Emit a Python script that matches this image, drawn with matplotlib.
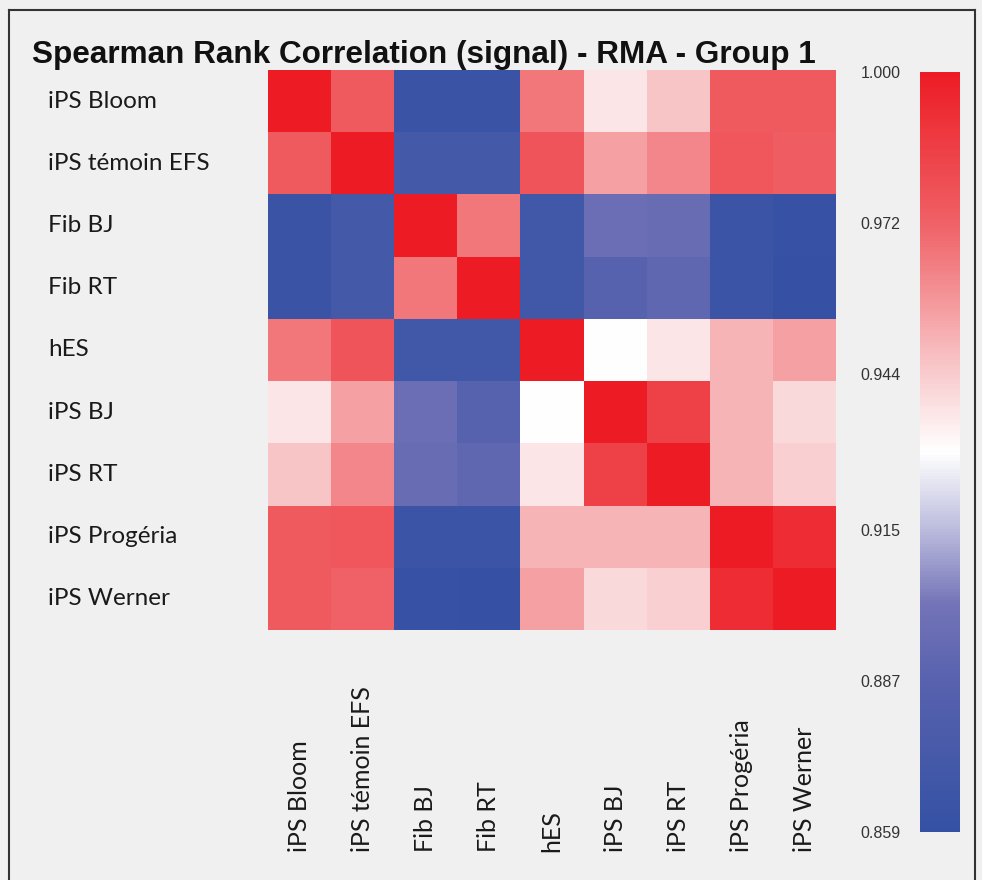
import numpy as np
import matplotlib
matplotlib.use("Agg")
import matplotlib.pyplot as plt
from matplotlib.colors import LinearSegmentedColormap
from matplotlib import font_manager
import matplotlib.transforms as mtransforms

labels = ["iPS Bloom", "iPS témoin EFS", "Fib BJ", "Fib RT", "hES",
          "iPS BJ", "iPS RT", "iPS Progéria", "iPS Werner"]

row_bloom   = [1.000, 0.975, 0.863, 0.863, 0.966, 0.937, 0.946, 0.975, 0.975]
row_efs     = [0.975, 1.000, 0.872, 0.872, 0.977, 0.955, 0.962, 0.976, 0.974]
row_fibbj   = [0.863, 0.872, 1.000, 0.966, 0.869, 0.897, 0.895, 0.865, 0.861]
row_fibrt   = [0.863, 0.872, 0.966, 1.000, 0.869, 0.887, 0.891, 0.865, 0.860]
row_hes     = [0.966, 0.977, 0.869, 0.869, 1.000, 0.930, 0.937, 0.950, 0.955]
row_ipsbj   = [0.937, 0.955, 0.897, 0.887, 0.930, 1.000, 0.985, 0.950, 0.940]
row_ipsrt   = [0.946, 0.962, 0.895, 0.891, 0.937, 0.985, 1.000, 0.950, 0.943]
row_prog    = [0.975, 0.976, 0.865, 0.865, 0.950, 0.950, 0.950, 1.000, 0.993]
row_werner  = [0.975, 0.972, 0.861, 0.860, 0.955, 0.940, 0.943, 0.993, 1.000]

cbar_ticks = [1.000, 0.972, 0.944, 0.915, 0.887, 0.859]
vmin, vmax = 0.859, 1.000

matrix = np.array([row_bloom, row_efs, row_fibbj, row_fibrt, row_hes,
                   row_ipsbj, row_ipsrt, row_prog, row_werner])

avail = {f.name for f in font_manager.fontManager.ttflist}
label_font = "Lato" if "Lato" in avail else "DejaVu Sans"

bg = "#F0F0F0"
fig = plt.figure(figsize=(9.82, 8.8), dpi=100, facecolor=bg)

# frame
fc = "#333333"
fig.add_artist(plt.Line2D([9/982, 9/982], [0, 1 - 10/880], transform=fig.transFigure, color=fc, lw=1.5))
fig.add_artist(plt.Line2D([9/982, 975/982], [1 - 10/880, 1 - 10/880], transform=fig.transFigure, color=fc, lw=1.5))
fig.add_artist(plt.Line2D([975/982, 975/982], [0, 1 - 10/880], transform=fig.transFigure, color=fc, lw=1.5))

cmap = LinearSegmentedColormap.from_list(
    "bwr_custom",
    [(0.0, "#3551A4"), (0.2, "#5862AE"), (0.3, "#7474B8"), (0.4, "#BDBDDE"),
     (0.5, "#FFFFFF"), (0.6, "#F9CDCF"), (0.8, "#EF6267"), (1.0, "#ED1C24")])

ax = fig.add_axes([268/982, 1 - 630/880, 568/982, 560/880])
n = len(labels)
ax.pcolormesh(np.arange(n + 1), np.arange(n + 1), matrix, cmap=cmap, vmin=vmin, vmax=vmax)
ax.set_xlim(0, n)
ax.set_ylim(n, 0)
ax.set_xticks([])
ax.set_yticks([])
for s in ax.spines.values():
    s.set_visible(False)
ax.set_facecolor(bg)

# row labels
trans_y = mtransforms.blended_transform_factory(fig.transFigure, ax.transData)
for i, lab in enumerate(labels):
    ax.text(48/982, i + 0.5, lab, transform=trans_y, ha="left", va="center",
            fontsize=17.5, family=label_font, color="#1a1a1a")

# column labels
trans_x = mtransforms.blended_transform_factory(ax.transData, fig.transFigure)
for j, lab in enumerate(labels):
    ax.text(j + 0.5, 1 - 852/880, lab, transform=trans_x, rotation=90,
            ha="center", va="bottom", fontsize=18, family=label_font, color="#1a1a1a")

fig.text(32/982, 1 - 63/880, "Spearman Rank Correlation (signal) - RMA - Group 1",
         fontsize=22.7, fontweight="bold", family="Liberation Sans", color="#111111",
         ha="left", va="baseline")

# colorbar
cax = fig.add_axes([920/982, 1 - 832/880, 40/982, 760/880])
grad = np.linspace(vmin, vmax, 256).reshape(-1, 1)
cax.pcolormesh([0, 1], np.linspace(vmin, vmax, 257), grad, cmap=cmap, vmin=vmin, vmax=vmax)
cax.set_ylim(vmin, vmax)
cax.set_xlim(0, 1)
cax.set_xticks([])
cax.set_yticks(cbar_ticks)
cax.set_yticklabels([f"{t:.3f}" for t in cbar_ticks], family="Liberation Sans", fontsize=11.5, color="#333333")
cax.tick_params(axis="y", length=0, pad=14)
for s in cax.spines.values():
    s.set_visible(False)

fig.savefig("out.png", dpi=100, facecolor=bg)
